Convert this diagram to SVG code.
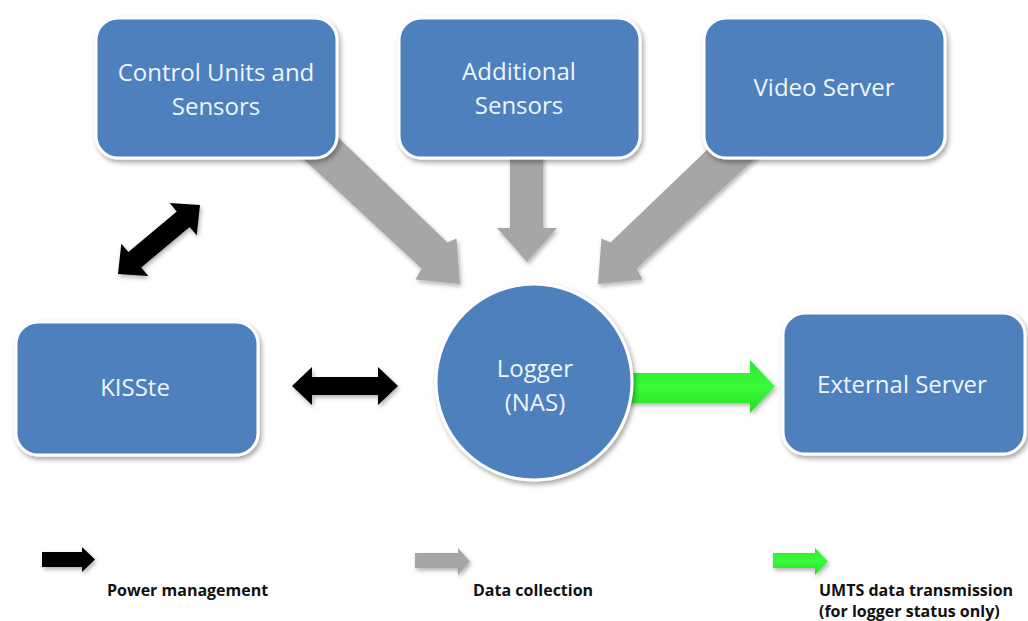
<svg xmlns="http://www.w3.org/2000/svg" width="1028" height="621" viewBox="0 0 1028 621">
<defs>
<filter id="sh" x="-20%" y="-20%" width="140%" height="140%">
<feDropShadow dx="2" dy="3" stdDeviation="2.5" flood-color="#000" flood-opacity="0.35"/>
</filter>
<filter id="ash" x="-20%" y="-20%" width="140%" height="140%">
<feDropShadow dx="1.5" dy="2.5" stdDeviation="2" flood-color="#000" flood-opacity="0.3"/>
</filter>
<linearGradient id="grn" x1="0" y1="0" x2="0" y2="1">
<stop offset="0" stop-color="#28e828"/>
<stop offset="0.5" stop-color="#3cfa3c"/>
<stop offset="1" stop-color="#22e022"/>
</linearGradient>
</defs>
<style>
.box{fill:#4d80bd;stroke:#ffffff;stroke-width:3;filter:url(#sh)}
.lbl{font-family:"Open Sans","Noto Sans",sans-serif;font-size:24px;fill:#eef5fc;text-anchor:middle}
.leg{font-family:"Open Sans","Noto Sans",sans-serif;font-size:16px;font-weight:bold;fill:#111}
.gray{fill:#a6a6a6;filter:url(#ash)}
.black{fill:#000;filter:url(#ash)}
.green{fill:url(#grn);filter:url(#ash)}
</style>
<rect width="1028" height="621" fill="#ffffff"/>

<g id="connectors">
<!-- Control Units -> Logger -->
<polygon class="gray" points="296,152 324,124 447.5,242.5 456.5,238.5 460,284 415.5,279.5 421.5,268.5"/>
<!-- Additional Sensors -> Logger -->
<polygon class="gray" points="510,150 543,150 543,228 557,228 527,262 497,228 510,228"/>
<!-- Video Server -> Logger -->
<polygon class="gray" points="762,152 734,124 610.5,242.5 601.5,238.5 598,284 642.5,279.5 636.5,268.5"/>
<!-- KISSte <-> Control Units -->
<polygon class="black" points="118,274 148.3,275.9 141.2,267.5 189.6,226.9 196.7,235.3 200,205 169.7,203.1 176.8,211.5 128.4,252.1 121.3,243.7"/>
<!-- KISSte <-> Logger -->
<polygon class="black" points="292,386 312,367 312,377 378,377 378,367 398,386 378,405 378,395 312,395 312,405"/>
<!-- Logger -> External Server -->
<polygon class="green" points="620,373 750,373 750,360 775,386.5 750,413 750,403 620,403"/>
</g>

<g id="node-control-units">
<rect class="box" x="96" y="18" width="241" height="140" rx="22"/>
<text class="lbl" x="216" y="81">Control Units and</text>
<text class="lbl" x="216" y="115">Sensors</text>
</g>
<g id="node-additional-sensors">
<rect class="box" x="399" y="18" width="241" height="140" rx="22"/>
<text class="lbl" x="519" y="80">Additional</text>
<text class="lbl" x="519" y="114">Sensors</text>
</g>
<g id="node-video-server">
<rect class="box" x="704" y="18" width="241" height="140" rx="22"/>
<text class="lbl" x="824" y="96">Video Server</text>
</g>
<g id="node-kisste">
<rect class="box" x="16" y="322" width="242" height="133" rx="22"/>
<text class="lbl" x="135" y="396">KISSte</text>
</g>
<g id="node-logger">
<circle class="box" cx="534" cy="382" r="98"/>
<text class="lbl" x="535" y="377">Logger</text>
<text class="lbl" x="535" y="411">(NAS)</text>
</g>
<g id="node-external-server">
<rect class="box" x="783" y="313" width="242" height="141" rx="22"/>
<text class="lbl" x="902" y="393">External Server</text>
</g>

<g id="legend">
<polygon class="black" points="42,552 82,552 82,547 95,559.5 82,572 82,567 42,567"/>
<text class="leg" x="107" y="596">Power management</text>
<polygon class="gray" points="415,553 458,553 458,548 470,561.5 458,575 458,568 415,568"/>
<text class="leg" x="473" y="596">Data collection</text>
<polygon class="green" points="773,553 815,553 815,548 828,561.5 815,575 815,568 773,568"/>
<text class="leg" x="819" y="596">UMTS data transmission</text>
<text class="leg" x="819" y="617">(for logger status only)</text>
</g>
</svg>
